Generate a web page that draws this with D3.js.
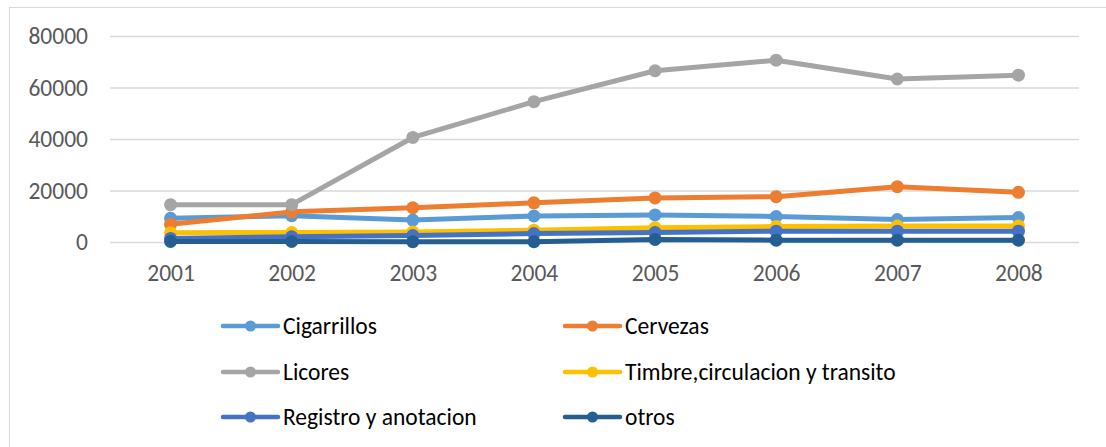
<!DOCTYPE html>
<html>
<head>
<meta charset="utf-8">
<script src="https://cdn.jsdelivr.net/npm/d3@7/dist/d3.min.js"></script>
<style>
	body { margin: 0; background: #fff; }
	text { font-family: Carlito, 'Liberation Sans Narrow', 'Open Sans', sans-serif; }
</style>
</head>
<body>
<div id="chart"></div>
<script>
var years = ['2001', '2002', '2003', '2004', '2005', '2006', '2007', '2008']
var yTicks = [0, 20000, 40000, 60000, 80000]
var seriesNames = ['Cigarrillos', 'Cervezas', 'Licores', 'Timbre,circulacion y transito', 'Registro y anotacion', 'otros']
var seriesColors = ['#5b9bd5', '#ed7d31', '#a5a5a5', '#ffc000', '#4472c4', '#255e91']

var cigarrillos = [9200, 10200, 8500, 10100, 10500, 9900, 8700, 9500]
var cervezas = [6900, 11700, 13300, 15200, 17100, 17600, 21500, 19300]
var licores = [14500, 14500, 40600, 54500, 66500, 70600, 63300, 64800]
var timbre = [3600, 3700, 3900, 4600, 5500, 6000, 6200, 6200]
var registro = [1400, 2000, 2500, 3300, 3700, 4200, 4200, 4200]
var otros = [200, 200, 100, 100, 1000, 700, 700, 700]

var seriesValues = [cigarrillos, cervezas, licores, timbre, registro, otros]

var width = 1106,
	height = 447,
	plot = {left: 110, right: 1079, top: 36, bottom: 242}

var svg = d3.select('#chart').append('svg')
	.attr('width', width)
	.attr('height', height)

// chart frame
svg.append('rect')
	.attr('x', 9.5)
	.attr('y', 7.5)
	.attr('width', 1110)
	.attr('height', 460)
	.attr('fill', 'none')
	.attr('stroke', '#d9d9d9')
	.attr('stroke-width', 1)

var x = d3.scalePoint()
	.domain(years)
	.range([plot.left, plot.right])
	.padding(0.5)

var y = d3.scaleLinear()
	.domain([0, 80000])
	.range([plot.bottom, plot.top])

// gridlines + y labels
var yAxis = svg.append('g')
	.attr('transform', 'translate(' + plot.left + ',0)')
	.call(d3.axisLeft(y).tickValues(yTicks).tickSize(-(plot.right - plot.left)).tickPadding(22).tickFormat(d3.format('d')))

yAxis.select('.domain').remove()
yAxis.selectAll('.tick line')
	.attr('stroke', '#d9d9d9')
	.attr('stroke-width', 1.3)
yAxis.selectAll('.tick text')
	.attr('fill', '#595959')
	.style('font-size', '23.5px')

// x labels
var xAxis = svg.append('g')
	.attr('transform', 'translate(0,' + plot.bottom + ')')
	.call(d3.axisBottom(x).tickSize(0).tickPadding(22))

xAxis.select('.domain').remove()
xAxis.selectAll('.tick text')
	.attr('fill', '#595959')
	.style('font-size', '23.5px')

var line = d3.line()
	.x(function(d, i) { return x(years[i]) })
	.y(function(d) { return y(d) })

seriesValues.forEach(function(vals, s) {
	var g = svg.append('g')
	g.append('path')
		.datum(vals)
		.attr('d', line)
		.attr('fill', 'none')
		.attr('stroke', seriesColors[s])
		.attr('stroke-width', 5)
		.attr('stroke-linejoin', 'round')
		.attr('stroke-linecap', 'round')
	g.selectAll('circle')
		.data(vals)
		.enter().append('circle')
		.attr('cx', function(d, i) { return x(years[i]) })
		.attr('cy', function(d) { return y(d) })
		.attr('r', 6.5)
		.attr('fill', seriesColors[s])
})

// legend, two columns
var legendCols = [223, 565],
	legendRows = [326, 372, 417]

seriesNames.forEach(function(name, s) {
	var lx = legendCols[s % 2],
		ly = legendRows[Math.floor(s / 2)]
	var lg = svg.append('g')
		.attr('transform', 'translate(' + lx + ',' + ly + ')')
	lg.append('line')
		.attr('x1', 0)
		.attr('x2', 55)
		.attr('y1', 0)
		.attr('y2', 0)
		.attr('stroke', seriesColors[s])
		.attr('stroke-width', 4.5)
		.attr('stroke-linecap', 'round')
	lg.append('circle')
		.attr('cx', 27.5)
		.attr('cy', 0)
		.attr('r', 5.5)
		.attr('fill', seriesColors[s])
	lg.append('text')
		.attr('x', 60)
		.attr('y', 0)
		.attr('dy', '0.35em')
		.attr('fill', '#000')
		.style('font-size', '23.5px')
		.text(name)
})
</script>
</body>
</html>
